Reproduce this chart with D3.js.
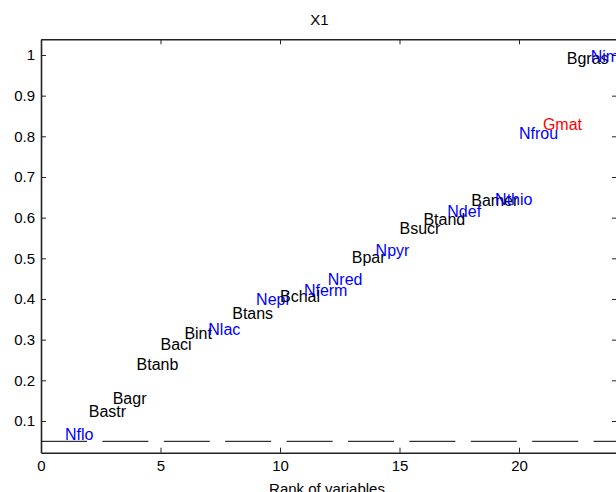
<!DOCTYPE html>
<html>
<head>
<meta charset="utf-8">
<script src="https://cdn.jsdelivr.net/npm/d3@7"></script>
<style>
  body { margin: 0; background: #fff; }
  svg { display: block; font-family: "Liberation Sans", Arial, sans-serif; }
</style>
</head>
<body>
<div id="chart"></div>
<script>
const names = ["Nflo", "Bastr", "Bagr", "Btanb", "Baci", "Bint", "Nlac", "Btans", "Nepi", "Bchal",
    "Nferm", "Nred", "Bpar", "Npyr", "Bsucr", "Btand", "Ndef", "Bamer", "Nthio", "Nfrou",
    "Gmat", "Bgras", "Nimp"];
const ranks = [1, 2, 3, 4, 5, 6, 7, 8, 9, 10, 11, 12, 13, 14, 15, 16, 17, 18, 19, 20, 21, 22, 23];
const values = [0.068, 0.125, 0.157, 0.240, 0.289, 0.316, 0.326, 0.365, 0.399, 0.406,
    0.422, 0.448, 0.503, 0.519, 0.574, 0.596, 0.615, 0.642, 0.646, 0.807,
    0.830, 0.992, 0.996];
const threshold = 0.05;
const xTicks = [0, 5, 10, 15, 20];
const yTicks = [0.1, 0.2, 0.3, 0.4, 0.5, 0.6, 0.7, 0.8, 0.9, 1];

const width = 616;
const height = 492;
const margin = ({top: 39.3, right: -1, bottom: 39.3, left: 41});

const groupColor = {B: "#000000", N: "#0000ff", G: "#ff0000"};

const x = d3.scaleLinear()
    .domain([0, 24.1])
    .range([margin.left, width - margin.right]);

const y = d3.scaleLinear()
    .domain([0.022, 1.0386])
    .range([height - margin.bottom, margin.top]);

const svg = d3.select("#chart").append("svg")
    .attr("width", width)
    .attr("height", height)
    .attr("viewBox", [0, 0, width, height]);

function styleAxis(g, labels) {
    g.select(".domain").attr("stroke", "#222").attr("stroke-width", 1.6);
    g.selectAll(".tick line").attr("stroke", "#222");
    g.selectAll(".tick text")
        .attr("fill", "#000")
        .style("font-size", "15px");
    if (!labels) g.selectAll(".tick text").remove();
}

// box: top and right axes carry ticks only
svg.append("g")
    .attr("transform", `translate(0,${y.range()[1]})`)
    .call(d3.axisTop(x).tickValues(xTicks).tickSizeInner(-5).tickSizeOuter(0))
    .call(g => styleAxis(g, false));

svg.append("g")
    .attr("transform", `translate(${x.range()[1]},0)`)
    .call(d3.axisRight(y).tickValues(yTicks).tickSizeInner(-5).tickSizeOuter(0))
    .call(g => styleAxis(g, false));

svg.append("g")
    .attr("transform", `translate(0,${y.range()[0]})`)
    .call(d3.axisBottom(x).tickValues(xTicks).tickSizeInner(-5).tickSizeOuter(0).tickPadding(8)
        .tickFormat(d3.format("d")))
    .call(g => styleAxis(g, true));

svg.append("g")
    .attr("transform", `translate(${x.range()[0]},0)`)
    .call(d3.axisLeft(y).tickValues(yTicks).tickSizeInner(-5).tickSizeOuter(0).tickPadding(6)
        .tickFormat(d => d === 1 ? "1" : d3.format(".1f")(d)))
    .call(g => styleAxis(g, true));

// significance threshold
svg.append("line")
    .attr("x1", x(0))
    .attr("x2", x.range()[1])
    .attr("y1", y(threshold))
    .attr("y2", y(threshold))
    .attr("stroke", "#000")
    .attr("stroke-width", 1)
    .attr("stroke-dasharray", "46,15.4");

// variable labels
svg.append("g")
    .selectAll("text")
    .data(names)
    .join("text")
    .attr("x", (d, i) => x(ranks[i]))
    .attr("y", (d, i) => y(values[i]))
    .attr("dy", "0.36em")
    .attr("fill", d => groupColor[d[0]])
    .style("font-size", "16px")
    .text(d => d);

svg.append("text")
    .attr("x", (margin.left + 616) / 2 - 9)
    .attr("y", 25)
    .attr("text-anchor", "middle")
    .style("font-size", "15px")
    .text("X1");

svg.append("text")
    .attr("x", 327)
    .attr("y", 494)
    .attr("text-anchor", "middle")
    .style("font-size", "15px")
    .text("Rank of variables");
</script>
</body>
</html>
